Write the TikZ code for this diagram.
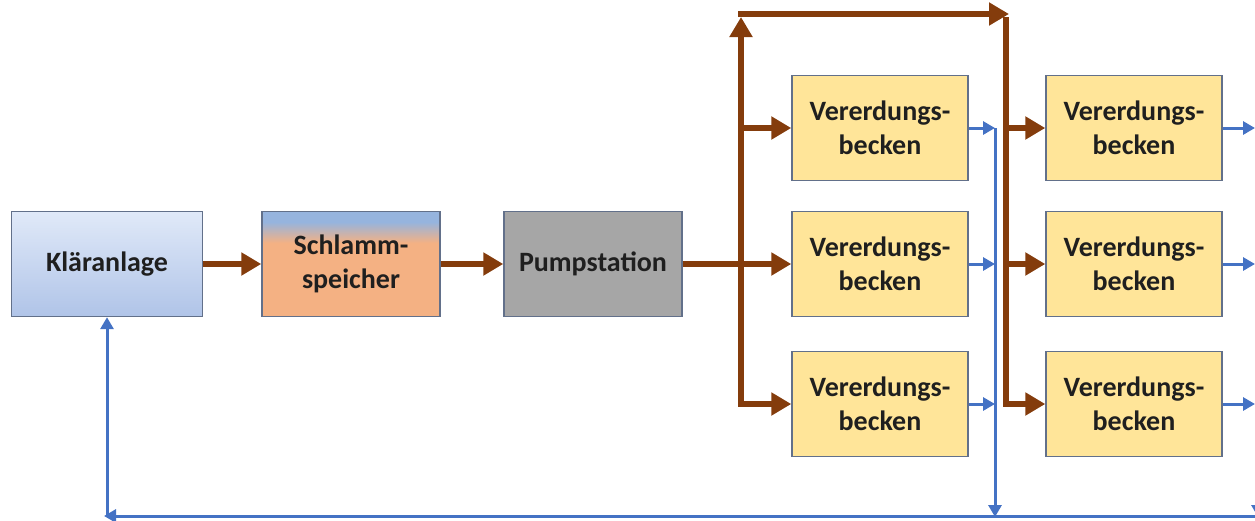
\documentclass[tikz,border=0pt]{standalone}
\usepackage{fontspec}
\setmainfont{Carlito}
\usepackage{tikz}
\usetikzlibrary{positioning,shapes,arrows.meta,calc}

\definecolor{brownflow}{RGB}{132,60,12}
\definecolor{blueret}{RGB}{68,114,196}
\definecolor{boxline}{RGB}{98,112,138}
\definecolor{beckenfill}{RGB}{255,229,153}
\definecolor{pumpfill}{RGB}{166,166,166}
\definecolor{orangefill}{RGB}{244,177,131}
\definecolor{bluetop}{RGB}{150,180,222}
\definecolor{klaertop}{RGB}{224,233,248}
\definecolor{klaerbottom}{RGB}{176,196,232}

\pgfdeclareverticalshading{schlamm}{100bp}{color(0bp)=(orangefill); color(60bp)=(orangefill);
  color(70bp)=(bluetop); color(100bp)=(bluetop)}

\begin{document}
\begin{tikzpicture}[x=1pt,y=-1pt]
          %% Schlammvererdung

          \useasboundingbox (0,0) rectangle (1255,520);
          \tikzstyle{every node}=[font=\bfseries\fontsize{28}{34}\selectfont, text=black!88, align=center]
          \tikzstyle{box}=[draw=boxline, line width=1.4pt, inner sep=0pt,
            minimum width=178pt, minimum height=105pt]
          \tikzstyle{flow}=[draw=brownflow, line width=6pt,
            -{Triangle[width=22pt,length=20pt]}]
          \tikzstyle{ret}=[draw=blueret, line width=3pt,
            -{Triangle[width=13pt,length=12pt]}]

          % Anlage
          \node[box, minimum width=191pt, top color=klaertop,
            bottom color=klaerbottom] (KA) at (107,264) {Kläranlage};
          \node[box, shading=schlamm] (SP) at (351,264) {Schlamm-\\speicher};
          \node[box, fill=pumpfill] (PS) at (593,264) {Pumpstation};

          % Becken
          \foreach \row/\y in {1/128,2/264,3/404} {
            \node[box, minimum width=176pt, fill=beckenfill] (VA\row) at (880,\y) {Vererdungs-\\becken};
            \node[box, minimum width=176pt, fill=beckenfill] (VB\row) at (1134,\y) {Vererdungs-\\becken};
          }

          \coordinate (J1) at (741,14);
          \coordinate (J2) at (1006,14);
          \coordinate (R1) at (995,516);
          \coordinate (R2) at (1258,516);
          \coordinate (R3) at (107,516);

          % Schlamm
          \draw[flow] (KA) -- (SP);
          \draw[flow] (SP) -- (PS);
          \draw[flow] (PS) -- (VA2);
          \draw[flow, {Triangle[width=22pt,length=20pt]}-{Triangle[width=22pt,length=20pt]}]
            ([yshift=-3pt]J1) |- (VA3);
          \draw[flow] (J1 |- VA1) -- (VA1);
          \draw[flow] ([xshift=-3pt]J1) -- ([xshift=3pt]J2);
          \draw[flow] ([yshift=-3pt]J2) |- (VB3);
          \foreach \row in {1,2} {
            \draw[flow] (J2 |- VB\row) -- (VB\row);
          }

          % Rueckfuehrung
          \foreach \row in {1,2,3} {
            \draw[ret] (VA\row) -- (VA\row -| R1);
            \draw[ret] (VB\row) -- ([xshift=-3pt]VB\row -| R2);
          }
          \draw[ret] (VA1 -| R1) -- ([yshift=-1pt]R1);
          \draw[ret] (VB1 -| R2) -- ([yshift=-1pt]R2);
          \draw[ret] (R2) -- ([xshift=-3pt]R3);
          \draw[ret] ([yshift=1.5pt]R3) -- (KA);
        \end{tikzpicture}
\end{document}
